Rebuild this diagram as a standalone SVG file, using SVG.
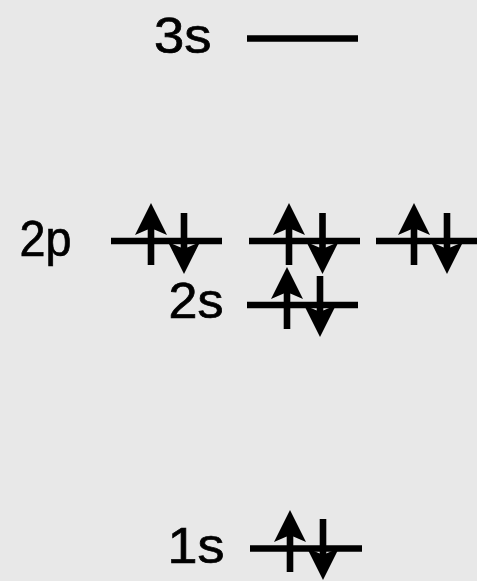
<svg xmlns="http://www.w3.org/2000/svg" width="477" height="581" viewBox="0 0 477 581">
<defs>
<style>
.lbl{font-family:"Liberation Sans",Arial,sans-serif;font-size:50px;fill:#000;stroke:#000;stroke-width:0.7;}
.lvl{stroke:#000;stroke-width:6.5;fill:none;}
</style>
<path id="up" d="M0,0 L16,32 L3.3,26.5 L3.3,62 L-3.3,62 L-3.3,26.5 L-16,32 Z" fill="#000"/>
<path id="down" d="M0,0 L16,-32 L3.3,-26.5 L3.3,-61 L-3.3,-61 L-3.3,-26.5 L-16,-32 Z" fill="#000"/>
</defs>
<rect width="477" height="581" fill="#e8e8e8"/>
<g id="level-3s">
<line class="lvl" x1="247" y1="38.5" x2="358" y2="38.5"/>
<text class="lbl" x="154" y="53" textLength="57.5" lengthAdjust="spacingAndGlyphs">3s</text>
</g>
<g id="level-2p">
<text class="lbl" x="19.5" y="255.5" textLength="52" lengthAdjust="spacingAndGlyphs">2p</text>
<line class="lvl" x1="111" y1="241" x2="222" y2="241"/>
<use href="#up" x="151" y="203"/>
<use href="#down" x="184" y="274"/>
<line class="lvl" x1="249" y1="241" x2="360" y2="241"/>
<use href="#up" x="289" y="203"/>
<use href="#down" x="322.5" y="274"/>
<line class="lvl" x1="376" y1="241" x2="477" y2="241"/>
<use href="#up" x="414" y="203"/>
<use href="#down" x="447" y="274"/>
</g>
<g id="level-2s">
<text class="lbl" x="168.5" y="318" textLength="55" lengthAdjust="spacingAndGlyphs">2s</text>
<line class="lvl" x1="247" y1="305" x2="358" y2="305"/>
<use href="#up" x="287" y="267"/>
<use href="#down" x="320" y="337"/>
</g>
<g id="level-1s">
<text class="lbl" x="167.5" y="563" textLength="57" lengthAdjust="spacingAndGlyphs">1s</text>
<line class="lvl" x1="250" y1="548.5" x2="362" y2="548.5"/>
<use href="#up" x="290" y="510"/>
<use href="#down" x="323" y="580"/>
</g>
<g id="connectors"></g>
</svg>
